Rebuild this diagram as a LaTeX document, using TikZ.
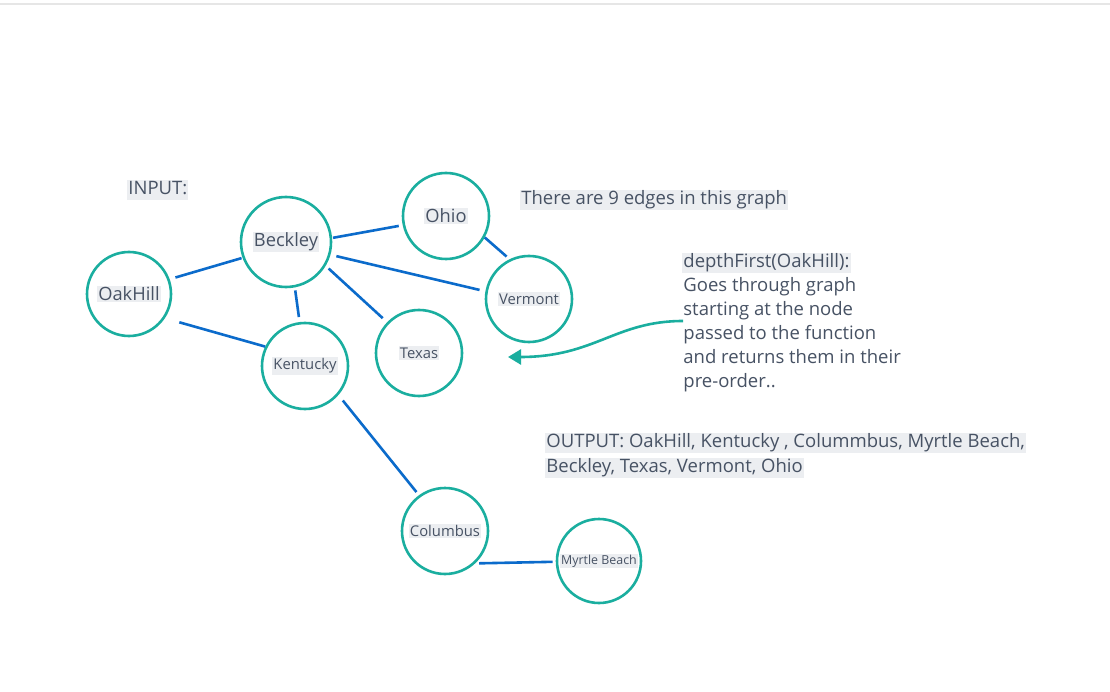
\documentclass[tikz,border=0pt]{standalone}
\usepackage{fontspec}
\setmainfont{Open Sans}
\usetikzlibrary{arrows.meta}
\definecolor{teal1}{HTML}{1AAE9F}
\definecolor{edgeblue}{HTML}{0B6BCB}
\definecolor{txt}{HTML}{475264}
\definecolor{hl}{HTML}{ECEEF1}
\definecolor{topline}{HTML}{E6E6E6}
\newcommand\hlbox[1]{{\setlength{\fboxsep}{1.2pt}\colorbox{hl}{#1}}}
\tikzset{
  city/.style={circle, draw=teal1, line width=2.6pt, text=txt, inner sep=0pt, font=\fontsize{14.8}{17}\selectfont},
  big/.style={font=\fontsize{18.3}{21}\selectfont},
  small/.style={font=\fontsize{12.4}{14}\selectfont},
  edge/.style={draw=edgeblue, line width=2.6pt},
  note/.style={text=txt, font=\fontsize{18.5}{22}\selectfont, inner sep=1.2pt, anchor=west, text height=13.5pt, text depth=4.5pt, yshift=-2pt},
  hlnote/.style={note, fill=hl},
  pointer/.style={draw=teal1, line width=2.6pt, -{Triangle[length=13pt,width=15pt]}}
}
\begin{document}
\begin{tikzpicture}[x=1pt,y=-1pt]
\useasboundingbox[fill=white] (0,0) rectangle (1110,692);
\draw[topline, line width=1.5pt] (0,4) -- (1110,4);

% nodes
\node[city, big, minimum size=84pt] (oak) at (129,294) {\hlbox{OakHill}};
\node[city, big, minimum size=90pt] (beck) at (286,242) {\hlbox{Beckley}};
\node[city, big, minimum size=86pt] (ohio) at (446,216) {\hlbox{Ohio}};
\node[city, minimum size=86pt] (verm) at (529,299) {\hlbox{Vermont}};
\node[city, minimum size=86pt] (tex) at (419,353) {\hlbox{Texas}};
\node[city, minimum size=86pt] (kent) at (305,366) {\hlbox{Kentucky}};
\node[city, minimum size=86pt] (col) at (445,531) {\hlbox{Columbus}};
\node[city, small, minimum size=84pt] (myr) at (599,561) {\hlbox{Myrtle Beach}};

% edges
\draw[edge, shorten <=6pt, shorten >=1pt] (oak.20.7) -- (beck.200.4);
\draw[edge, shorten <=15pt, shorten >=0pt] (oak.-34.5) -- (kent.154);
\draw[edge, shorten <=3pt, shorten >=5pt] (beck.-79) -- (kent.97);
\draw[edge, shorten <=1pt, shorten >=4pt] (beck.5) -- (ohio.192.3);
\draw[edge, shorten <=6pt, shorten >=6pt] (beck.-16) -- (verm.170.7);
\draw[edge, shorten <=4pt, shorten >=6pt] (beck.-31.8) -- (tex.136.6);
\draw[edge, shorten <=0pt, shorten >=4pt] (ohio.-29.6) -- (verm.116.6);
\draw[edge, shorten <=7pt, shorten >=4pt] (kent.-41) -- (col.126.4);
\draw[edge, shorten <=4pt, shorten >=3pt] (col.-47.6) -- (myr.181.3);

% texts
\node[hlnote] (input) at (127,188) {INPUT:};
\node[hlnote] (edges) at (520,198) {There are 9 edges in this graph};
\node[hlnote] (df1) at (682,261) {depthFirst(OakHill):};
\node[note] (df2) at (682,285) {Goes through graph};
\node[note] (df3) at (682,309) {starting at the node};
\node[note] (df4) at (682,333) {passed to the function};
\node[note] (df5) at (682,357) {and returns them in their};
\node[note] (df6) at (682,381) {pre-order..};
\node[hlnote] (out1) at (545,441) {OUTPUT: OakHill, Kentucky , Colummbus, Myrtle Beach,};
\node[hlnote] (out2) at (545,466) {Beckley, Texas, Vermont, Ohio};

% pointer arrow
\coordinate (ps) at (683,321);
\coordinate (pe) at (508,357);
\draw[pointer] (ps) .. controls (615,321) and (595,357) .. (pe);
\end{tikzpicture}
\end{document}
